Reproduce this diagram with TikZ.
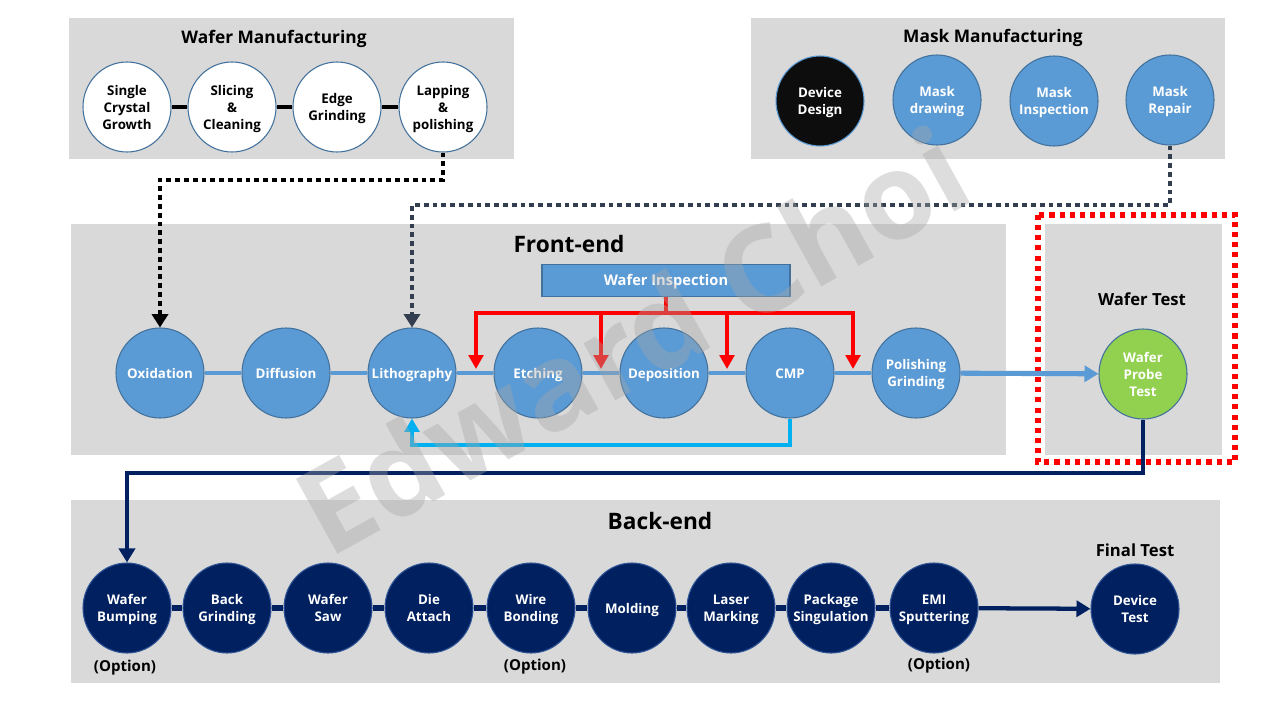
\documentclass[tikz,border=0pt]{standalone}
\usepackage{fontspec}
\setmainfont{Open Sans}
\usetikzlibrary{arrows.meta,shapes.geometric}
\definecolor{boxgray}{HTML}{D9D9D9}
\definecolor{cblue}{HTML}{5B9BD5}
\definecolor{cbluedk}{HTML}{41719C}
\definecolor{cnavy}{HTML}{002060}
\definecolor{cnavyedge}{HTML}{2F5597}
\definecolor{cgreen}{HTML}{92D050}
\definecolor{ccyan}{HTML}{00B0F0}
\definecolor{cslate}{HTML}{333F50}
\definecolor{cred}{HTML}{FF0000}
\newcommand{\ctxt}[1]{\makebox[0pt][c]{\raisebox{-4pt}[0pt][0pt]{\begin{tabular}{@{}c@{}}#1\end{tabular}}}}
\begin{document}
\begin{tikzpicture}[x=0.75pt,y=-0.75pt,
  panel/.style={fill=boxgray,draw=none},
  circtext/.style={font=\bfseries\fontsize{10}{12.75}\selectfont},
  basecirc/.style={shape=ellipse,inner sep=0pt,minimum width=66pt,minimum height=67.5pt,circtext},
  wcirc/.style={basecirc,fill=white,draw=cbluedk,line width=0.8pt,text=black},
  bcirc/.style={basecirc,fill=cblue,draw=cbluedk,line width=0.8pt,text=white},
  kcirc/.style={basecirc,fill=black!95,draw=cblue,line width=0.8pt,text=white},
  gcirc/.style={basecirc,fill=cgreen,draw=cbluedk,line width=0.8pt,text=white},
  ncirc/.style={basecirc,fill=cnavy,draw=cnavyedge,line width=0.8pt,text=white},
  paneltitle/.style={font=\bfseries\fontsize{13}{15}\selectfont,text=black},
  bigtitle/.style={font=\bfseries\fontsize{17}{20}\selectfont,text=black},
  subtitle/.style={font=\bfseries\fontsize{12.5}{15}\selectfont,text=black},
  optlabel/.style={font=\bfseries\fontsize{11.3}{14}\selectfont,text=black},
  wmline/.style={line width=3.6pt,black},
  feline/.style={line width=3.6pt,cblue},
  beline/.style={line width=4.2pt,cnavy},
  redarrow/.style={line width=3.2pt,cred,{Triangle[length=10.5pt,width=11pt]}-{Triangle[length=10.5pt,width=11pt]}},
  reddrop/.style={line width=3.2pt,cred,-{Triangle[length=10.5pt,width=11pt]}},
  blackdots/.style={line width=3.6pt,black,dash pattern=on 3.6pt off 3pt,-{Triangle[length=10pt,width=12pt]}},
  slatedots/.style={line width=3.6pt,cslate,dash pattern=on 3.6pt off 3pt,-{Triangle[length=10pt,width=12pt]}},
  cyanarrow/.style={line width=3.2pt,ccyan,-{Triangle[length=10pt,width=11pt]}},
  navyarrow/.style={line width=3.2pt,cnavy,-{Triangle[length=10.5pt,width=12pt]}},
  bluearrow/.style={line width=3.8pt,cblue,-{Triangle[length=10.5pt,width=12pt]}},
  reddotted/.style={line width=3.8pt,cred,dash pattern=on 3.8pt off 3.8pt}
]
\useasboundingbox (0,0) rectangle (1280,720);
\fill[white] (0,0) rectangle (1280,720);

% panels
\fill[panel] (69,18) rectangle (514,159);
\fill[panel] (751,18) rectangle (1225,159);
\fill[panel] (71,224) rectangle (1006,455);
\fill[panel] (1045,224) rectangle (1222,455);
\fill[panel] (71,500) rectangle (1220,683);
\draw[reddotted] (1038,215) rectangle (1235,462);

% titles
\node[paneltitle] (twm) at (274,39) {Wafer Manufacturing};
\node[paneltitle] (tmm) at (993,38) {Mask Manufacturing};
\node[bigtitle] (tfe) at (569,244) {Front-end};
\node[bigtitle] (tbe) at (660,521) {Back-end};
\node[subtitle] (twt) at (1142,299) {Wafer Test};
\node[subtitle] (tft) at (1135,550) {Final Test};

% wafer manufacturing
\node[wcirc] (sc) at (127,107) {\ctxt{Single\\Crystal\\Growth}};
\node[wcirc] (sl) at (232,107) {\ctxt{Slicing\\\&\\Cleaning}};
\node[wcirc] (eg) at (337,107) {\ctxt{Edge\\Grinding}};
\node[wcirc] (lp) at (443,107) {\ctxt{Lapping\\\&\\polishing}};
\draw[wmline] (sc) -- (sl);
\draw[wmline] (sl) -- (eg);
\draw[wmline] (eg) -- (lp);

% mask manufacturing
\node[kcirc] (dd) at (820,101) {\ctxt{Device\\Design}};
\node[bcirc] (md) at (937,100) {\ctxt{Mask\\drawing}};
\node[bcirc] (mi) at (1054,101) {\ctxt{Mask\\Inspection}};
\node[bcirc] (mr) at (1170,100) {\ctxt{Mask\\Repair}};

% front-end
\node[bcirc] (ox) at (160,373) {\ctxt{Oxidation}};
\node[bcirc] (di) at (286,373) {\ctxt{Diffusion}};
\node[bcirc] (li) at (412,373) {\ctxt{Lithography}};
\node[bcirc] (et) at (538,373) {\ctxt{Etching}};
\node[bcirc] (de) at (664,373) {\ctxt{Deposition}};
\node[bcirc] (cm) at (790,373) {\ctxt{CMP}};
\node[bcirc] (pg) at (916,373) {\ctxt{Polishing\\Grinding}};
\node[gcirc] (wp) at (1143,374) {\ctxt{Wafer\\Probe\\Test}};
\node[basecirc,shape=rectangle,minimum width=186pt,minimum height=24.5pt,fill=cblue,draw=cbluedk,line width=0.8pt,text=white,font=\bfseries\fontsize{11}{13}\selectfont] (wi) at (666,280.5) {\ctxt{Wafer Inspection}};

% back-end
\node[ncirc] (wb) at (127,608) {\ctxt{Wafer\\Bumping}};
\node[ncirc] (bg) at (227,608) {\ctxt{Back\\Grinding}};
\node[ncirc] (ws) at (328,608) {\ctxt{Wafer\\Saw}};
\node[ncirc] (da) at (429,608) {\ctxt{Die\\Attach}};
\node[ncirc] (wbo) at (531,608) {\ctxt{Wire\\Bonding}};
\node[ncirc] (mo) at (632,608) {\ctxt{Molding}};
\node[ncirc] (lm) at (731,608) {\ctxt{Laser\\Marking}};
\node[ncirc] (ps) at (831,608) {\ctxt{Package\\Singulation}};
\node[ncirc] (em) at (934,608) {\ctxt{EMI\\Sputtering}};
\node[ncirc] (dt) at (1135,609) {\ctxt{Device\\Test}};

\node[optlabel] (o1) at (125,668) {(Option)};
\node[optlabel] (o2) at (535,667) {(Option)};
\node[optlabel] (o3) at (939,666) {(Option)};

% front-end connectors
\draw[feline] (ox) -- (di);
\draw[feline] (di) -- (li);
\draw[feline] (li) -- (et);
\draw[feline] (et) -- (de);
\draw[feline] (de) -- (cm);
\draw[feline] (cm) -- (pg);
\draw[bluearrow] (pg) -- (wp);

% back-end connectors
\draw[beline] (wb) -- (bg);
\draw[beline] (bg) -- (ws);
\draw[beline] (ws) -- (da);
\draw[beline] (da) -- (wbo);
\draw[beline] (wbo) -- (mo);
\draw[beline] (mo) -- (lm);
\draw[beline] (lm) -- (ps);
\draw[beline] (ps) -- (em);
\draw[navyarrow] (em) -- (dt);

% red inspection arrows
\coordinate (rb1) at (476,313);
\coordinate (rb2) at (601,313);
\coordinate (rb3) at (727,313);
\coordinate (rb4) at (853,313);
\coordinate (rt1) at (476,369);
\coordinate (rt2) at (601,369);
\coordinate (rt3) at (727,369);
\coordinate (rt4) at (853,369);
\draw[line width=3.2pt,cred] (wi.south) -- (wi.south |- rb1);
\draw[redarrow] (rt1) -- (rb1) -- (rb4) -- (rt4);
\draw[reddrop] (rb2) -- (rt2);
\draw[reddrop] (rb3) -- (rt3);

% cyan feedback
\coordinate (cy) at (0,445);
\draw[cyanarrow] (cm.south) -- (cm.south |- cy) -- (li.south |- cy) -- (li.south);

% dotted feeds
\coordinate (bk) at (0,180);
\coordinate (sv) at (0,205);
\draw[blackdots] (lp.south) -- (lp.south |- bk) -- (ox.north |- bk) -- (ox.north);
\draw[slatedots] (mr.south) -- (mr.south |- sv) -- (li.north |- sv) -- (li.north);

% navy to back-end
\coordinate (nv) at (0,473);
\draw[navyarrow] (wp.south) -- (wp.south |- nv) -- (wb.north |- nv) -- (wb.north);

% watermark
\node[rotate=29,text=black!35,opacity=0.38,font=\bfseries\fontsize{90}{100}\selectfont] (wm) at (632,340) {Edward Choi};
\end{tikzpicture}
\end{document}
